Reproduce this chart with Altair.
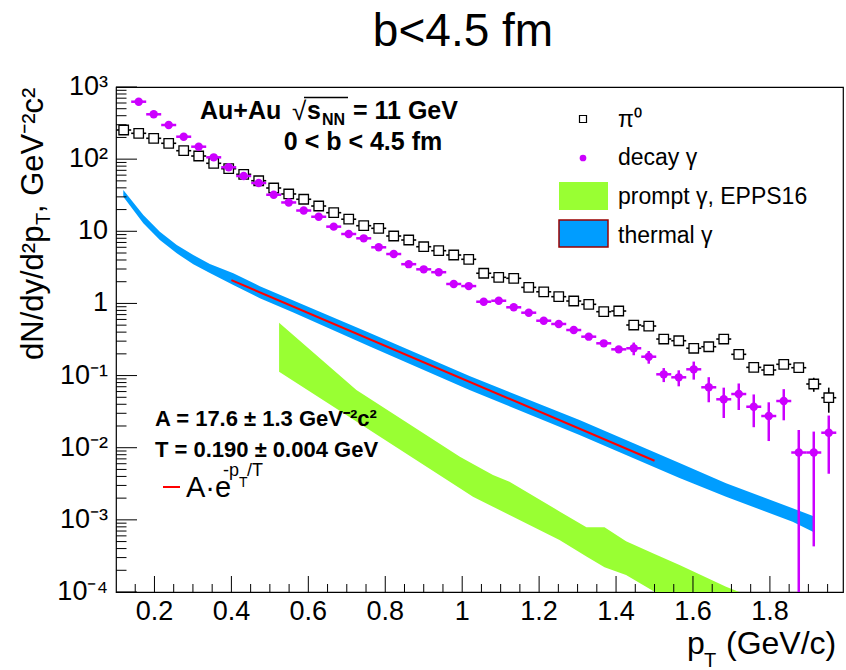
import altair as alt
import pandas as pd

FONT = "Liberation Sans"
BLUE = "#009dff"
GREEN = "#99ff33"
MAGENTA = "#cc00ff"
RED = "#ff0000"

# ---------------- data ----------------
PT = [0.120, 0.159, 0.198, 0.237, 0.276, 0.315, 0.354, 0.393, 0.432, 0.471,
      0.510, 0.549, 0.588, 0.627, 0.666, 0.705, 0.744, 0.783, 0.822, 0.861,
      0.900, 0.939, 0.978, 1.017, 1.056, 1.095, 1.134, 1.173, 1.212, 1.251,
      1.290, 1.329, 1.368, 1.407, 1.446, 1.485, 1.524, 1.563, 1.602, 1.641,
      1.680, 1.719, 1.758, 1.797, 1.836, 1.875, 1.914, 1.953]
BIN_HALF = 0.0195

PI0 = [253.5, 228.1, 194.5, 165.9, 130.9, 110.5, 87.6, 73.7, 61.6, 50.2,
       39.8, 32.9, 27.8, 22.4, 18.1, 14.7, 11.95, 11.0, 8.60, 7.57,
       6.11, 5.38, 4.69, 4.09, 2.62, 2.30, 2.23, 1.67, 1.45, 1.24,
       1.08, 0.972, 0.768, 0.785, 0.502, 0.486, 0.321, 0.304, 0.239, 0.251,
       0.321, 0.197, 0.130, 0.1194, 0.1433, 0.1285, 0.0764, 0.0493]
PI0_REL_ERR = [0.02] * 26 + [0.05] * 8 + [0.10] * 7 + [0.15, 0.12, 0.12, 0.12, 0.12, 0.22, 0.38]

DECAY_PT = PT[1:]
DECAY = [625.5, 418.4, 297.3, 204.7, 148.8, 106.0, 77.1, 58.4, 46.7, 32.1,
         25.1, 19.4, 15.9, 11.6, 9.17, 7.99, 6.00, 4.84, 3.50, 2.97,
         2.71, 1.86, 1.74, 1.056, 1.09, 0.884, 0.744, 0.576, 0.519, 0.428,
         0.346, 0.280, 0.231, 0.239, 0.1826, 0.1041, 0.0946, 0.1221, 0.0688, 0.0469,
         0.0555, 0.0370, 0.0275, 0.0444, 0.00858, 0.00858, 0.01614]
DECAY_REL_ERR = [0.02] * 20 + [0.05] * 7 + [0.10] * 6 + [0.20, 0.20, 0.22, 0.25, 0.28, 0.38, 0.45,
                                                       0.40, 0.48, 0.55, 0.46, 1.05, 0.95, 0.73]

THERMAL_PT = [0.119, 0.171, 0.214, 0.258, 0.301, 0.344, 0.405, 0.474, 0.561,
              0.760, 1.019, 1.305, 1.565, 1.686, 1.859, 1.917]
THERMAL_HI = [37.3, 16.8, 9.87, 6.45, 4.69, 3.52, 2.62, 1.733, 1.098,
              0.390, 0.0986, 0.0242, 0.00614, 0.00321, 0.001445, 0.001105]
THERMAL_LO = [30.2, 12.9, 7.57, 4.95, 3.49, 2.64, 1.80, 1.181, 0.748,
              0.253, 0.0631, 0.0150, 0.00380, 0.00209, 0.000942, 0.000663]

FIT_PT = [0.40, 1.50]
FIT_Y = [2.1, 0.0066]

PROMPT_PT = [0.524, 0.725, 0.994, 1.028, 1.080, 1.123, 1.253, 1.323, 1.370, 1.426,
             1.500, 1.565, 1.686, 1.773]
PROMPT_HI = [0.540, 0.0631, 0.00750, 0.00594, 0.00418, 0.00338, 0.00131, 0.000788, 0.000788,
             0.000504, 0.000336, 0.000237, 0.000118, 0.0000774]
PROMPT_LO = [0.1131, 0.0230, 0.00274, 0.00209, 0.00152, 0.00117, 0.000525, 0.000310, 0.000220,
             0.000172, 0.000101, 0.0000625, 0.0000263, 0.0000134]

X_TICK_VALUES = [0.2, 0.4, 0.6, 0.8, 1.0, 1.2, 1.4, 1.6, 1.8]
X_TICK_LABELS = ["0.2", "0.4", "0.6", "0.8", "1", "1.2", "1.4", "1.6", "1.8"]
X_MINOR = [0.15, 0.25, 0.3, 0.35, 0.45, 0.5, 0.55, 0.65, 0.7, 0.75, 0.85, 0.9, 0.95,
           1.05, 1.1, 1.15, 1.25, 1.3, 1.35, 1.45, 1.5, 1.55, 1.65, 1.7, 1.75, 1.85, 1.9, 1.95]
Y_TICK_VALUES = [1e-4, 1e-3, 1e-2, 1e-1, 1, 10, 100, 1000]
Y_TICK_LABELS = ["10⁻⁴", "10⁻³", "10⁻²", "10⁻¹", "1", "10", "10²", "10³"]
Y_MINOR = [m * d for d in [1e-4, 1e-3, 1e-2, 1e-1, 1, 10, 100] for m in range(2, 10)]

TITLE = "b<4.5 fm"
LEGEND_LABELS = ["π⁰", "decay γ", "prompt γ, EPPS16", "thermal γ"]

# ---------------- tables ----------------
pi0 = pd.DataFrame({"pt": PT, "v": PI0, "rel": PI0_REL_ERR})
decay = pd.DataFrame({"pt": DECAY_PT, "v": DECAY, "rel": DECAY_REL_ERR})
for d in (pi0, decay):
    d["lo"] = (d.v * (1 - d.rel)).clip(lower=1e-6)
    d["hi"] = d.v * (1 + d.rel)
    d["xlo"] = d.pt - BIN_HALF
    d["xhi"] = d.pt + BIN_HALF
thermal = pd.DataFrame({"pt": THERMAL_PT, "hi": THERMAL_HI, "lo": THERMAL_LO})
fit = pd.DataFrame({"pt": FIT_PT, "v": FIT_Y})
prompt = pd.DataFrame({"pt": PROMPT_PT, "hi": PROMPT_HI, "lo": PROMPT_LO})
xlab = pd.DataFrame({"t": X_TICK_VALUES, "lab": X_TICK_LABELS})
ylab = pd.DataFrame({"t": Y_TICK_VALUES, "lab": Y_TICK_LABELS})

xs = alt.Scale(domain=[0.1, 1.99], nice=False, zero=False)
ys = alt.Scale(type="log", domain=[1e-4, 1e3], nice=False)

W, H = 727, 505


def X(f):
    return alt.X(f, scale=xs, axis=None)


def Y(f):
    return alt.Y(f, scale=ys, axis=None)


layers = []
layers.append(alt.Chart(thermal).mark_area(color=BLUE, opacity=1, clip=True).encode(
    x=X("pt:Q"), y=Y("hi:Q"), y2="lo:Q"))
layers.append(alt.Chart(fit).mark_line(color=RED, strokeWidth=2, clip=True).encode(
    x=X("pt:Q"), y=Y("v:Q")))
layers.append(alt.Chart(prompt).mark_area(color=GREEN, opacity=1, clip=True).encode(
    x=X("pt:Q"), y=Y("hi:Q"), y2="lo:Q"))

# pi0
layers.append(alt.Chart(pi0).mark_rule(color="black", strokeWidth=1.6, clip=True).encode(
    x=X("pt:Q"), y=Y("lo:Q"), y2="hi:Q"))
layers.append(alt.Chart(pi0).mark_rule(color="black", strokeWidth=1.6, clip=True).encode(
    x=X("xlo:Q"), x2="xhi:Q", y=Y("v:Q")))
layers.append(alt.Chart(pi0).mark_point(shape="square", filled=True, fill="white", stroke="black",
                                        strokeWidth=1.3, size=90, opacity=1, clip=True).encode(
    x=X("pt:Q"), y=Y("v:Q")))
# decay gamma
layers.append(alt.Chart(decay).mark_rule(color=MAGENTA, strokeWidth=2.5, clip=True).encode(
    x=X("pt:Q"), y=Y("lo:Q"), y2="hi:Q"))
layers.append(alt.Chart(decay).mark_rule(color=MAGENTA, strokeWidth=2.5, clip=True).encode(
    x=X("xlo:Q"), x2="xhi:Q", y=Y("v:Q")))
layers.append(alt.Chart(decay).mark_circle(color=MAGENTA, size=70, opacity=1, clip=True).encode(
    x=X("pt:Q"), y=Y("v:Q")))

# inside ticks
layers.append(alt.Chart(pd.DataFrame({"t": X_TICK_VALUES})).mark_rule(color="black", strokeWidth=1).encode(
    x=X("t:Q"), y=alt.value(H), y2=alt.value(H - 16)))
layers.append(alt.Chart(pd.DataFrame({"t": X_MINOR})).mark_rule(color="black", strokeWidth=1).encode(
    x=X("t:Q"), y=alt.value(H), y2=alt.value(H - 8)))
layers.append(alt.Chart(pd.DataFrame({"t": Y_TICK_VALUES})).mark_rule(color="black", strokeWidth=1).encode(
    y=Y("t:Q"), x=alt.value(0), x2=alt.value(21)))
layers.append(alt.Chart(pd.DataFrame({"t": Y_MINOR})).mark_rule(color="black", strokeWidth=1).encode(
    y=Y("t:Q"), x=alt.value(0), x2=alt.value(10.5)))

# tick labels (through the scales)
layers.append(alt.Chart(xlab).mark_text(font=FONT, fontSize=27, align="center", baseline="alphabetic",
                                        color="black").encode(
    x=X("t:Q"), y=alt.value(H + 28), text="lab:N"))
layers.append(alt.Chart(ylab).mark_text(font=FONT, fontSize=27, align="right", baseline="middle",
                                        color="black").encode(
    y=Y("t:Q"), x=alt.value(-8), text="lab:N"))

one = pd.DataFrame({"k": [0]})


def txt(s, x, y, size, bold=False, align="left", angle=0, color="black"):
    return alt.Chart(one).mark_text(fontSize=size, font=FONT, fontWeight="bold" if bold else "normal",
                                    align=align, baseline="alphabetic", angle=angle, color=color).encode(
        x=alt.value(x), y=alt.value(y), text=alt.value(s))


# title
layers.append(txt(TITLE, 347, -41, 46, align="center"))

# axis titles
layers.append(txt("p", 571, 567, 32))
layers.append(txt("T", 588, 580, 20))
layers.append(txt("(GeV/c)", 610, 567, 32))
layers.append(txt("dN/dy/d²p", -73, 273, 31, angle=270))
layers.append(txt("T", -66, 138, 20, angle=270))
layers.append(txt(", GeV⁻²c²", -73, 126, 31, angle=270))

# annotation
layers.append(txt("Au+Au", 84, 32, 25, bold=True))
layers.append(txt("√", 176, 33, 26))
layers.append(txt("s", 191, 32, 25, bold=True))
layers.append(txt("NN", 206, 38, 16, bold=True))
layers.append(alt.Chart(one).mark_rule(color="black", strokeWidth=1.3).encode(
    x=alt.value(188), x2=alt.value(232), y=alt.value(10.5)))
layers.append(txt("= 11 GeV", 237, 32, 25, bold=True))
layers.append(txt("0 < b < 4.5 fm", 247, 63, 25, bold=True, align="center"))

layers.append(txt("A = 17.6 ± 1.3 GeV⁻²c²", 39, 339, 22, bold=True))
layers.append(txt("T = 0.190 ± 0.004 GeV", 39, 370, 22, bold=True))
layers.append(alt.Chart(one).mark_rule(color=RED, strokeWidth=2).encode(
    x=alt.value(47), x2=alt.value(64), y=alt.value(400)))
layers.append(txt("A·e", 70, 410, 29))
layers.append(txt("-p", 107, 389, 18))
layers.append(txt("T", 123, 400, 14))
layers.append(txt("/T", 131, 389, 18))

# legend
layers.append(alt.Chart(one).mark_point(shape="square", filled=True, fill="white", stroke="black",
                                        strokeWidth=1.2, size=49, opacity=1).encode(
    x=alt.value(467), y=alt.value(32)))
layers.append(alt.Chart(one).mark_circle(color=MAGENTA, size=45, opacity=1).encode(
    x=alt.value(467), y=alt.value(71)))
layers.append(alt.Chart(one).mark_rect(color=GREEN).encode(
    x=alt.value(443), x2=alt.value(492), y=alt.value(95), y2=alt.value(123)))
layers.append(alt.Chart(one).mark_rect(color=BLUE, stroke="#990000", strokeWidth=1.5).encode(
    x=alt.value(443), x2=alt.value(492), y=alt.value(133), y2=alt.value(160)))
layers.append(txt(LEGEND_LABELS[0], 502, 40, 23))
layers.append(txt(LEGEND_LABELS[1], 502, 78, 23))
layers.append(txt(LEGEND_LABELS[2], 502, 117, 23))
layers.append(txt(LEGEND_LABELS[3], 502, 156, 23))

chart = alt.layer(*layers).properties(
    width=W, height=H,
    autosize=alt.AutoSizeParams(type="none"),
    padding={"left": 116, "top": 87, "right": 3, "bottom": 78},
    background="white",
).configure_view(stroke="black", strokeWidth=1.2)

chart.save("out.html", embed_options={"renderer": "svg", "actions": False})
